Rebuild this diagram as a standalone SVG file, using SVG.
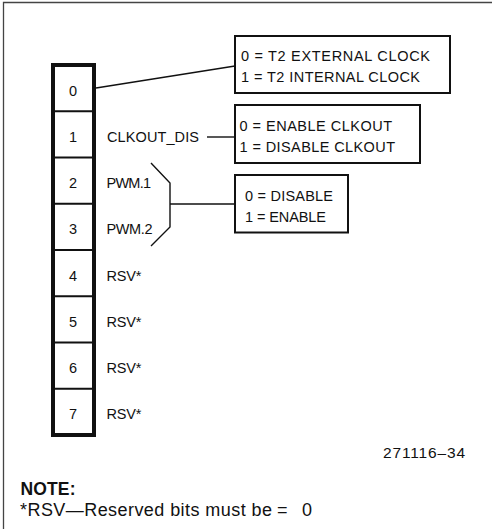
<svg xmlns="http://www.w3.org/2000/svg" width="492" height="529" viewBox="0 0 492 529">
<style>
.lbl{font-family:"Liberation Sans",Arial,sans-serif;font-size:14.5px;fill:#111}
.dig{font-family:"Liberation Sans",Arial,sans-serif;font-size:14.5px;fill:#111;text-anchor:middle}
.note{font-family:"Liberation Sans",Arial,sans-serif;fill:#111}
.box{fill:#fff;stroke:#111;stroke-width:2}
.con{fill:none;stroke:#111;stroke-width:1.4}
.div{stroke:#111;stroke-width:2}
</style>
<rect width="492" height="529" fill="#fff"/>
<path d="M3.5,529 V2.5 H492" fill="none" stroke="#444" stroke-width="1.3"/>
<g id="register">
<rect x="53" y="65" width="41" height="370" fill="#fff" stroke="#111" stroke-width="4"/>
<line class="div" x1="53" y1="111.25" x2="94" y2="111.25"/>
<line class="div" x1="53" y1="157.5" x2="94" y2="157.5"/>
<line class="div" x1="53" y1="203.75" x2="94" y2="203.75"/>
<line class="div" x1="53" y1="250" x2="94" y2="250"/>
<line class="div" x1="53" y1="296.25" x2="94" y2="296.25"/>
<line class="div" x1="53" y1="342.5" x2="94" y2="342.5"/>
<line class="div" x1="53" y1="388.75" x2="94" y2="388.75"/>
<text class="dig" x="73" y="95.5">0</text>
<text class="dig" x="73" y="141.8">1</text>
<text class="dig" x="73" y="188">2</text>
<text class="dig" x="73" y="234.3">3</text>
<text class="dig" x="73" y="280.5">4</text>
<text class="dig" x="73" y="326.8">5</text>
<text class="dig" x="73" y="373">6</text>
<text class="dig" x="73" y="419.3">7</text>
</g>
<g id="labels">
<text class="lbl" x="107" y="141.8" textLength="92" lengthAdjust="spacing">CLKOUT_DIS</text>
<text class="lbl" x="106.5" y="188" textLength="44.5" lengthAdjust="spacing">PWM.1</text>
<text class="lbl" x="106.5" y="234.3" textLength="46" lengthAdjust="spacing">PWM.2</text>
<text class="lbl" x="106.5" y="280.5" textLength="35" lengthAdjust="spacing">RSV*</text>
<text class="lbl" x="106.5" y="326.8" textLength="35" lengthAdjust="spacing">RSV*</text>
<text class="lbl" x="106.5" y="373" textLength="35" lengthAdjust="spacing">RSV*</text>
<text class="lbl" x="106.5" y="419.3" textLength="35" lengthAdjust="spacing">RSV*</text>
</g>
<g id="connectors">
<line class="con" x1="96" y1="88" x2="235" y2="66"/>
<line class="con" x1="207" y1="137" x2="235" y2="137"/>
<path class="con" d="M151,163 L170,183 V227 L151,246"/>
<line class="con" x1="170" y1="204" x2="235" y2="204"/>
</g>
<g id="box-t2clock">
<rect class="box" x="235" y="36" width="215" height="57"/>
<text class="lbl" x="241" y="61" textLength="189" lengthAdjust="spacing">0 = T2 EXTERNAL CLOCK</text>
<text class="lbl" x="241" y="81.5" textLength="179" lengthAdjust="spacing">1 = T2 INTERNAL CLOCK</text>
</g>
<g id="box-clkout">
<rect class="box" x="235" y="105" width="185" height="58"/>
<text class="lbl" x="239.5" y="130.5" textLength="152.5" lengthAdjust="spacing">0 = ENABLE CLKOUT</text>
<text class="lbl" x="239.5" y="152" textLength="155.5" lengthAdjust="spacing">1 = DISABLE CLKOUT</text>
</g>
<g id="box-pwm">
<rect class="box" x="235" y="175" width="113" height="57.5"/>
<text class="lbl" x="245" y="201" textLength="88" lengthAdjust="spacing">0 = DISABLE</text>
<text class="lbl" x="245" y="222.3" textLength="81" lengthAdjust="spacing">1 = ENABLE</text>
</g>
<g id="notes">
<text class="note" x="383" y="457.5" font-size="15.5" textLength="82" lengthAdjust="spacing">271116–34</text>
<text class="note" x="20.5" y="495" font-size="17.5" font-weight="bold" textLength="55" lengthAdjust="spacing">NOTE:</text>
<text class="note" x="20" y="515.7" font-size="18" textLength="252" lengthAdjust="spacing">*RSV—Reserved bits must be</text>
<text class="note" x="277" y="515.7" font-size="18">=</text>
<text class="note" x="302" y="515.7" font-size="18">0</text>
</g>
</svg>
